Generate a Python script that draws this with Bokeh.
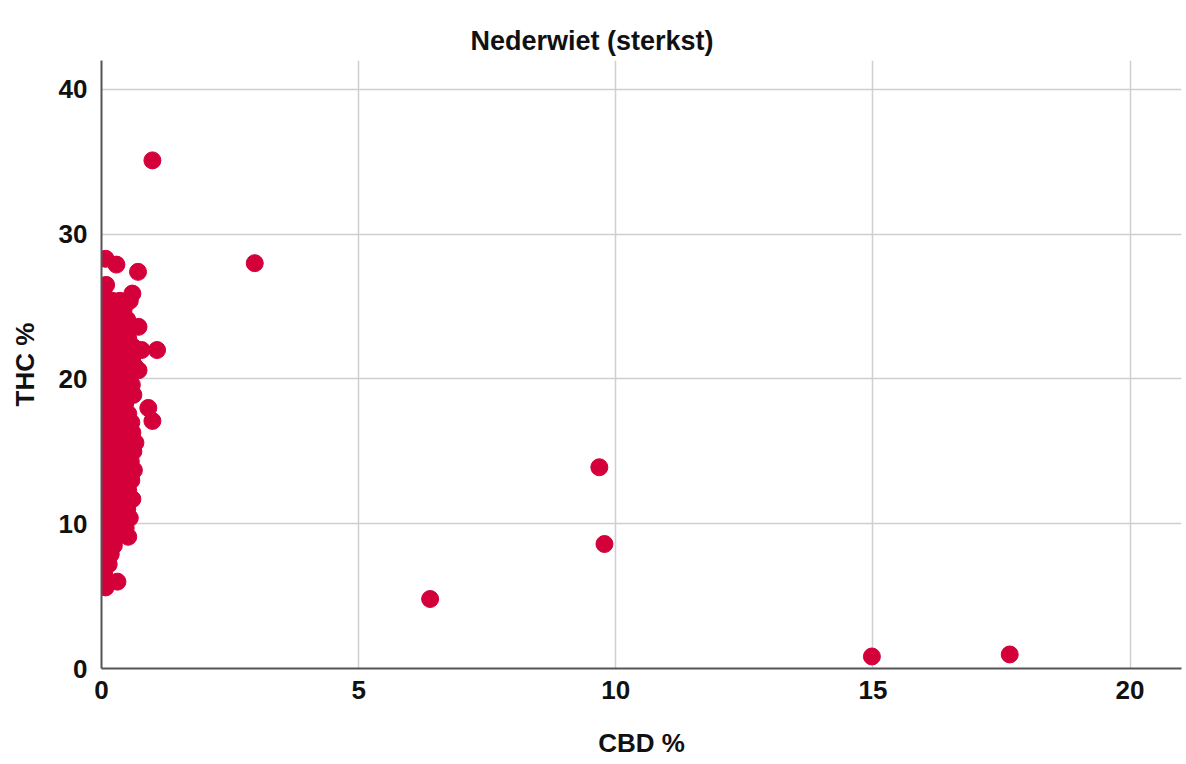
from bokeh.plotting import figure
from bokeh.embed import file_html
from bokeh.resources import INLINE
from bokeh.models import FixedTicker, Range1d, Title

# THC % and CBD % per sample
cluster_thc = [
    6.0, 6.0, 6.0,
    6.6,
    7.2, 7.2,
    7.9, 7.9,
    8.5, 8.5, 8.5,
    9.1, 9.1, 9.1, 9.1,
    9.7, 9.7, 9.7, 9.7,
    10.4, 10.4, 10.4, 10.4,
    11.0, 11.0, 11.0, 11.0,
    11.7, 11.7, 11.7, 11.7, 11.7,
    12.3, 12.3, 12.3, 12.3,
    13.0, 13.0, 13.0, 13.0, 13.0,
    13.7, 13.7, 13.7, 13.7, 13.7,
    14.3, 14.3, 14.3, 14.3, 14.3,
    15.0, 15.0, 15.0, 15.0, 15.0,
    15.6, 15.6, 15.6, 15.6, 15.6,
    16.3, 16.3, 16.3, 16.3, 16.3,
    17.0, 17.0, 17.0, 17.0, 17.0, 17.1,
    17.6, 17.6, 17.6, 17.6,
    18.0,
    18.3, 18.3, 18.3, 18.3,
    18.9, 18.9, 18.9, 18.9, 18.9,
    19.6, 19.6, 19.6, 19.6, 19.6,
    20.2, 20.2, 20.2, 20.2, 20.6,
    20.9, 20.9, 20.9, 20.9, 20.9,
    21.5, 21.5, 21.5, 21.5, 21.5,
    22.0, 22.0,
    22.2, 22.2, 22.2, 22.2, 22.2,
    22.8, 22.8, 22.8, 22.8,
    23.5, 23.5, 23.5, 23.5, 23.6,
    24.1, 24.1, 24.1, 24.1,
    24.8, 24.8, 24.8, 24.8,
    25.4, 25.4, 25.4, 25.4,
    25.9, 25.9,
    26.5,
    27.4,
    27.9,
    28.3,
    5.6,
]
cluster_cbd = [
    0.03, 0.12, 0.31,
    0.05,
    0.02, 0.14,
    0.04, 0.18,
    0.03, 0.12, 0.24,
    0.02, 0.15, 0.30, 0.52,
    0.06, 0.21, 0.38, 0.47,
    0.03, 0.17, 0.33, 0.55,
    0.05, 0.19, 0.36, 0.50,
    0.02, 0.14, 0.29, 0.44, 0.60,
    0.06, 0.22, 0.37, 0.52,
    0.03, 0.16, 0.31, 0.47, 0.58,
    0.05, 0.20, 0.35, 0.50, 0.63,
    0.02, 0.13, 0.28, 0.43, 0.57,
    0.06, 0.21, 0.36, 0.51, 0.62,
    0.03, 0.17, 0.32, 0.47, 0.66,
    0.05, 0.19, 0.34, 0.49, 0.60,
    0.02, 0.15, 0.30, 0.45, 0.58, 0.99,
    0.06, 0.22, 0.37, 0.52,
    0.91,
    0.03, 0.16, 0.31, 0.46,
    0.05, 0.20, 0.35, 0.50, 0.62,
    0.02, 0.14, 0.29, 0.44, 0.59,
    0.06, 0.21, 0.36, 0.51, 0.72,
    0.03, 0.18, 0.33, 0.48, 0.64,
    0.05, 0.19, 0.34, 0.49, 0.60,
    0.78, 1.08,
    0.02, 0.15, 0.30, 0.45, 0.62,
    0.06, 0.22, 0.37, 0.52,
    0.03, 0.16, 0.31, 0.46, 0.72,
    0.05, 0.20, 0.35, 0.50,
    0.02, 0.14, 0.29, 0.43,
    0.06, 0.21, 0.36, 0.55,
    0.04, 0.60,
    0.09,
    0.71,
    0.29,
    0.08,
    0.08,
]
outlier_cbd = [0.99, 2.98, 9.68, 9.78, 6.39, 14.98, 17.66]
outlier_thc = [35.1, 28.0, 13.9, 8.6, 4.8, 0.83, 0.97]

cbd = cluster_cbd + outlier_cbd
thc = cluster_thc + outlier_thc

x_ticks = [0, 5, 10, 15, 20]
y_ticks = [0, 10, 20, 30, 40]

FONT = "Liberation Sans"
RED = "#D4003A"

p = figure(width=1184, height=764, output_backend="svg", toolbar_location=None,
           x_range=Range1d(0, 21.0), y_range=Range1d(0, 42.0),
           min_border_left=101, min_border_right=3, min_border_top=60, min_border_bottom=96)
p.title = Title(text="Nederwiet (sterkst)", align="left", offset=369,
                text_font=FONT, text_font_size="27px", text_font_style="bold",
                text_color="#111111")

p.scatter(cbd, thc, size=17, fill_color=RED, line_color=RED, marker="circle")

p.xaxis.ticker = FixedTicker(ticks=x_ticks)
p.yaxis.ticker = FixedTicker(ticks=y_ticks)
p.xaxis.axis_label = "CBD %"
p.yaxis.axis_label = "THC %"
for ax in (p.xaxis, p.yaxis):
    ax.axis_label_text_font = FONT
    ax.axis_label_text_font_size = "26px"
    ax.axis_label_text_font_style = "bold"
    ax.axis_label_text_color = "#111111"
    ax.major_label_text_font = FONT
    ax.major_label_text_font_size = "26px"
    ax.major_label_text_font_style = "bold"
    ax.major_label_text_color = "#111111"
    ax.major_tick_line_color = None
    ax.minor_tick_line_color = None
    ax.axis_line_color = "#555555"
    ax.axis_line_width = 2
p.xaxis.major_label_standoff = 6
p.yaxis.major_label_standoff = 8
p.xaxis.axis_label_standoff = 26
p.yaxis.axis_label_standoff = 16

p.xgrid.grid_line_color = "#CFCFCF"
p.ygrid.grid_line_color = "#CFCFCF"
p.xgrid.grid_line_width = 1.5
p.ygrid.grid_line_width = 1.5
p.outline_line_color = None
p.background_fill_color = "white"
p.border_fill_color = "white"

open("out.html", "w").write(file_html(p, INLINE))
